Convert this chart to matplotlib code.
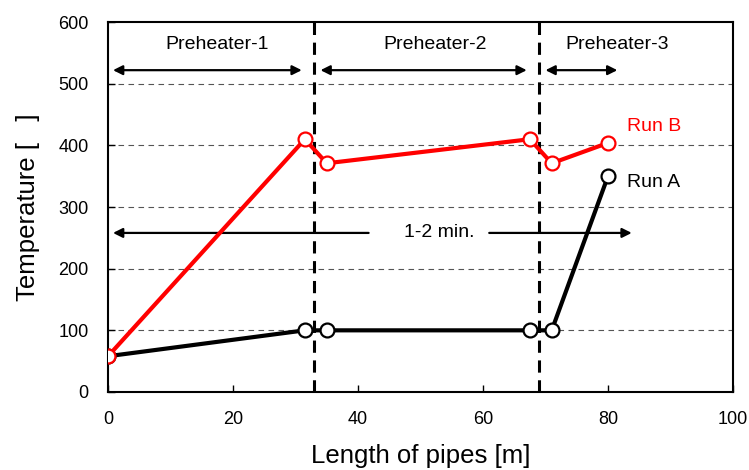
import matplotlib.pyplot as plt

plt.rcParams['font.family'] = ['Liberation Sans', 'DejaVu Sans']

# data
length = [0, 31.5, 35, 67.5, 71, 80]
run_a = [58, 100, 100, 100, 100, 350]
run_b = [58, 410, 371, 410, 371, 404]
boundaries = [33, 69]
sections = ['Preheater-1', 'Preheater-2', 'Preheater-3']
section_spans = [(0.8, 31), (34, 67), (70, 81.5)]
section_label_x = [17.4, 52.4, 81.5]

fig = plt.figure(figsize=(7.49, 4.70), dpi=100)
ax = fig.add_axes([0.1442, 0.166, 0.8344, 0.787])

for y in range(100, 600, 100):
    ax.axhline(y, color='#555555', lw=0.8, ls=(0, (5, 4)), zorder=1)
for xb in boundaries:
    ax.axvline(xb, color='black', lw=2.2, ls=(0, (4, 2.5)), zorder=2)

ax.plot(length, run_a, color='black', lw=3, marker='o', ms=10,
        mfc='white', mec='black', mew=1.6, zorder=4)
ax.plot(length, run_b, color='red', lw=3, marker='o', ms=10,
        mfc='white', mec='red', mew=1.6, zorder=5)

# section arrows and labels
for name, (x0, x1), lx in zip(sections, section_spans, section_label_x):
    ax.annotate('', xy=(x0, 522), xytext=(x1, 522),
                arrowprops=dict(arrowstyle='<|-|>', color='black', lw=1.6,
                                mutation_scale=14, shrinkA=0, shrinkB=0))
    ax.text(lx, 563, name, ha='center', va='center', fontsize=14)

# residence time arrow
ax.annotate('', xy=(0.8, 258), xytext=(41.7, 258),
            arrowprops=dict(arrowstyle='-|>', color='black', lw=1.6,
                            mutation_scale=14, shrinkA=0, shrinkB=0))
ax.annotate('', xy=(83.8, 258), xytext=(61, 258),
            arrowprops=dict(arrowstyle='-|>', color='black', lw=1.6,
                            mutation_scale=14, shrinkA=0, shrinkB=0))
ax.text(53, 258, '1-2 min.', ha='center', va='center', fontsize=14)

ax.text(83, 431, 'Run B', color='red', ha='left', va='center', fontsize=14)
ax.text(83, 340, 'Run A', color='black', ha='left', va='center', fontsize=14)

ax.set_xlim(0, 100)
ax.set_ylim(0, 600)
ax.set_xticks(range(0, 101, 20))
ax.set_yticks(range(0, 601, 100))
ax.tick_params(direction='in', labelsize=13, length=5, width=1, pad=14)
for s in ax.spines.values():
    s.set_linewidth(1.5)
ax.set_xlabel('Length of pipes [m]', fontsize=18.5, labelpad=11)
ax.set_ylabel('Temperature [   ]', fontsize=18.5, labelpad=13)

fig.savefig('out.png', dpi=100)
